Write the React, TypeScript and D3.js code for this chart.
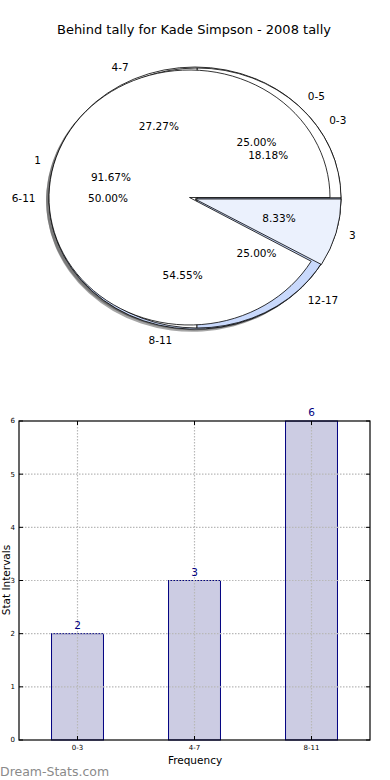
import React from 'react';
import * as d3 from 'd3';

// pie rings (three tallies drawn on top of each other)
const ringALabels = ['0-3', '4-7', '8-11'];
const ringAValues = [2, 3, 6];
const ringBLabels = ['0-5', '6-11', '12-17'];
const ringBValues = [1, 2, 1];
const ringCLabels = ['1', '3'];
const ringCValues = [11, 1];

// bar chart
const barCategories = ['0-3', '4-7', '8-11'];
const barValues = [2, 3, 6];
const yTicks = [0, 1, 2, 3, 4, 5, 6];

const W = 390;
const H = 780;
const LIGHT = '#c9d9fc';
const PALE = '#ebf1fd';

// nominal pie frame, used for text
const PC = { cx: 195, cy: 198, rx: 145, ry: 131 };

type Geo = { cx: number; cy: number; rx: number; ry: number };

const pieGen = d3
  .pie<number>()
  .sort(null)
  .startAngle(Math.PI / 2)
  .endAngle(Math.PI / 2 - 2 * Math.PI);
const unitArc = d3.arc<d3.PieArcDatum<number>>().innerRadius(0).outerRadius(1);

const ring = (values: number[], labels: string[], colors: string[], geos: Geo[]) => {
  const total = d3.sum(values);
  return pieGen(values).map((d, i) => {
    const mid = (d.startAngle + d.endAngle) / 2;
    return {
      d,
      label: labels[i],
      pct: ((values[i] / total) * 100).toFixed(2) + '%',
      color: colors[i],
      geo: geos[i],
      sx: Math.sin(mid),
      sy: -Math.cos(mid),
    };
  });
};

const gA: Geo = { cx: 195, cy: 198, rx: 146, ry: 131 };
const gB: Geo = { cx: 197, cy: 198, rx: 144, ry: 130 };
const ringA = ring(ringAValues, ringALabels, ['#ffffff', '#ffffff', LIGHT], [gA, gA, gA]);
const ringB = ring(ringBValues, ringBLabels, ['#ffffff', '#ffffff', LIGHT], [gB, gB, gB]);
const ringC = ring(ringCValues, ringCLabels, ['#ffffff', PALE], [
  { cx: 189.5, cy: 197.5, rx: 140.5, ry: 127.5 },
  { cx: 195, cy: 199, rx: 146, ry: 131 },
]);
const rings = [ringA, ringB, ringC];

const Wedge = ({ w, shadow }: { w: any; shadow?: boolean }) => {
  const g: Geo = w.geo;
  const dx = shadow ? -2.9 : 0;
  const dy = shadow ? 2.6 : 0;
  return (
    <path
      d={unitArc(w.d) || ''}
      transform={`translate(${g.cx + dx},${g.cy + dy}) scale(${g.rx},${g.ry})`}
      fill={shadow ? '#4d4d4d' : w.color}
      fillOpacity={shadow ? 0.5 : 1}
      stroke={shadow ? 'none' : '#000'}
      strokeWidth={0.8}
      vectorEffect="non-scaling-stroke"
      strokeLinejoin="round"
    />
  );
};

const App = () => {
  // bar chart frame
  const left = 19;
  const right = 370;
  const top = 421;
  const bottom = 740;
  const x = d3.scaleBand<string>().domain(barCategories).range([left, right]).paddingInner(0.556).paddingOuter(0.278);
  const y = d3.scaleLinear().domain([0, 6]).range([bottom, top]);
  const font = 'DejaVu Sans, sans-serif';
  const gridStyle = { stroke: '#b8b8b8', strokeWidth: 1.2, strokeDasharray: '1.5,1.5' };

  return (
    <svg
      width={W}
      height={H}
      style={{ position: 'absolute', left: 0, top: 0, background: '#fff' }}
      fontFamily={font}
    >
      <rect width={W} height={H} fill="#fff" />
      <text x={194} y={34} textAnchor="middle" fontSize={13}>
        Behind tally for Kade Simpson - 2008 tally
      </text>

      {/* shadows sit under every wedge */}
      {rings.map((r, ri) => r.map((w, i) => <Wedge key={`s${ri}-${i}`} w={w} shadow />))}
      {rings.map((r, ri) => r.map((w, i) => <Wedge key={`w${ri}-${i}`} w={w} />))}

      {rings.map((r, ri) =>
        r.map((w, i) => (
          <g key={`t${ri}-${i}`} fontSize={10.5}>
            <text
              x={PC.cx + 1.1 * PC.rx * w.sx}
              y={PC.cy + 1.1 * PC.ry * w.sy}
              dy="0.35em"
              textAnchor={w.sx > 0 ? 'start' : 'end'}
            >
              {w.label}
            </text>
            <text x={PC.cx + 0.6 * PC.rx * w.sx} y={PC.cy + 0.6 * PC.ry * w.sy} dy="0.35em" textAnchor="middle">
              {w.pct}
            </text>
          </g>
        ))
      )}

      {/* bars */}
      {barCategories.map((c, i) => (
        <rect
          key={c}
          x={x(c)}
          y={y(barValues[i])}
          width={x.bandwidth()}
          height={bottom - y(barValues[i])}
          fill="#ccccE3"
          stroke="#000080"
          strokeWidth={1}
        />
      ))}

      {/* grid */}
      {yTicks.slice(1, -1).map((t) => (
        <line key={`gy${t}`} x1={left} x2={right} y1={y(t)} y2={y(t)} {...gridStyle} />
      ))}
      {barCategories.map((c) => {
        const cx = (x(c) || 0) + x.bandwidth() / 2;
        return <line key={`gx${c}`} x1={cx} x2={cx} y1={top} y2={bottom} {...gridStyle} />;
      })}

      {/* value labels */}
      {barCategories.map((c, i) => (
        <text
          key={`v${c}`}
          x={(x(c) || 0) + x.bandwidth() / 2}
          y={y(barValues[i]) - 5}
          textAnchor="middle"
          fontSize={10.5}
          fill="#000080"
        >
          {barValues[i]}
        </text>
      ))}

      {/* frame and ticks */}
      <rect x={left} y={top} width={right - left} height={bottom - top} fill="none" stroke="#000" strokeWidth={1.2} />
      {yTicks.map((t) => (
        <g key={`yt${t}`}>
          <line x1={left} x2={left + 4} y1={y(t)} y2={y(t)} stroke="#000" />
          <line x1={right - 4} x2={right} y1={y(t)} y2={y(t)} stroke="#000" />
          <text x={left - 4} y={y(t)} dy="0.35em" textAnchor="end" fontSize={7}>
            {t}
          </text>
        </g>
      ))}
      {barCategories.map((c) => {
        const cx = (x(c) || 0) + x.bandwidth() / 2;
        return (
          <g key={`xt${c}`}>
            <line x1={cx} x2={cx} y1={bottom} y2={bottom - 4} stroke="#000" />
            <line x1={cx} x2={cx} y1={top} y2={top + 4} stroke="#000" />
            <text x={cx} y={bottom + 10} textAnchor="middle" fontSize={7}>
              {c}
            </text>
          </g>
        );
      })}
      <text x={195} y={764} textAnchor="middle" fontSize={10.5}>
        Frequency
      </text>
      <text transform="translate(10,580) rotate(-90)" textAnchor="middle" fontSize={10.5}>
        Stat Intervals
      </text>
      <text x={0} y={776} fontSize={12.5} fill="#8a8a8a">
        Dream-Stats.com
      </text>
    </svg>
  );
};

export default App;
